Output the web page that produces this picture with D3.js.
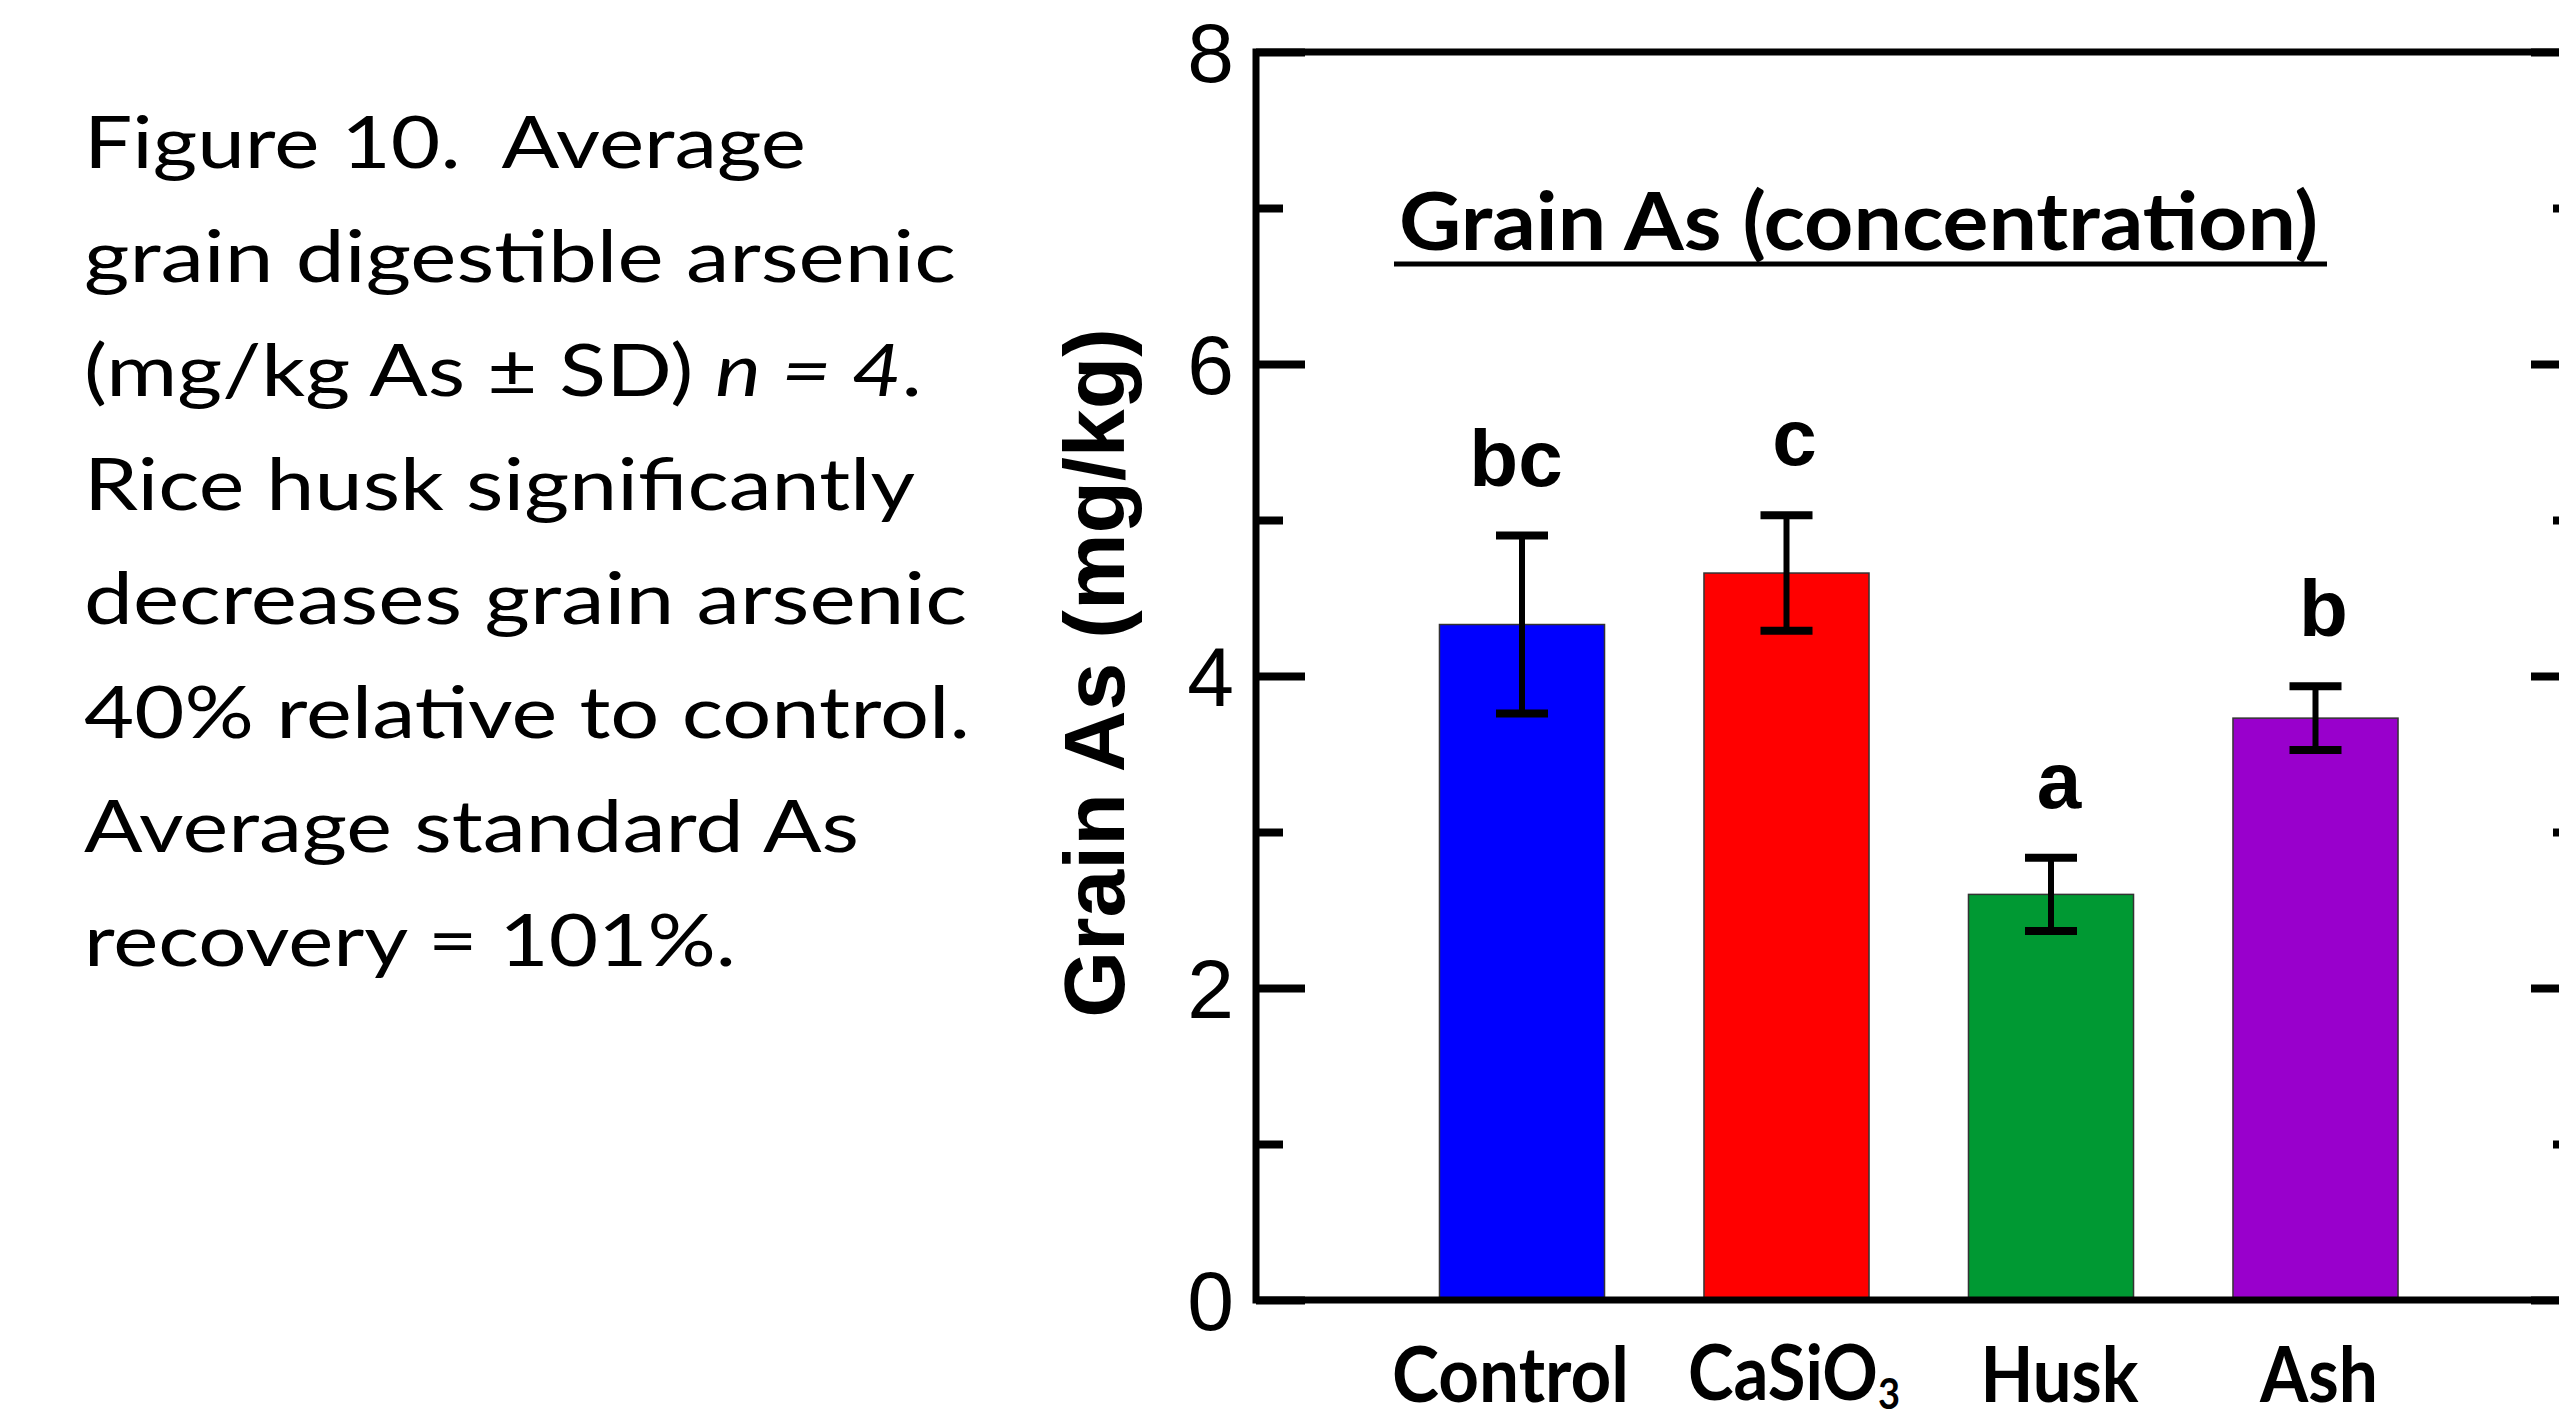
<!DOCTYPE html>
<html>
<head>
<meta charset="utf-8">
<script src="https://cdn.jsdelivr.net/npm/d3@7"></script>
<style>
  html, body { margin: 0; padding: 0; background: #ffffff; }
  svg { display: block; }
</style>
</head>
<body>
<svg id="chart" width="2559" height="1421"></svg>
<script>
// ---- data ----
const categories = ["Control", "CaSiO3", "Husk", "Ash"];
const means = [4.33, 4.66, 2.60, 3.73];
const sds = [0.57, 0.37, 0.235, 0.205];
const letters = ["bc", "c", "a", "b"];
const barColors = ["#0000FF", "#FF0000", "#009933", "#9900CC"];
const majorTicks = [0, 2, 4, 6, 8];
const minorTicks = [1, 3, 5, 7];
const chartTitle = "Grain As (concentration)";
const yTitle = "Grain As (mg/kg)";
const captionLines = [
  [{t: "Figure 10.\u00A0 Average"}],
  [{t: "grain digestible arsenic"}],
  [{t: "(mg/kg As \u00B1 SD) "}, {t: "n = 4", i: true}, {t: "."}],
  [{t: "Rice husk significantly"}],
  [{t: "decreases grain arsenic"}],
  [{t: "40% relative to control."}],
  [{t: "Average standard As"}],
  [{t: "recovery = 101%."}]
];
const captionWidths = [722, 872, 838, 831, 883, 886, 775, 652];

(function () {
const svg = d3.select("#chart");
svg.append("rect").attr("width", 2559).attr("height", 1421).attr("fill", "#fff");

const pL = 1256, pR = 2580, pT = 52, pB = 1300;
const y = d3.scaleLinear().domain([0, 8]).range([pB, pT]);
const x = d3.scaleBand().domain(categories).range([1389.75, 2447.75])
  .paddingInner(0.376).paddingOuter(0.188);

// caption
const cap = svg.append("g");
captionLines.forEach((parts, i) => {
  const t = cap.append("text")
    .attr("x", 84).attr("y", 168 + i * 114)
    .attr("font-family", "Lato, 'Open Sans', sans-serif")
    .attr("font-size", 72).attr("fill", "#000")
    .attr("textLength", captionWidths[i]).attr("lengthAdjust", "spacingAndGlyphs");
  parts.forEach(p => {
    const ts = t.append("tspan").text(p.t);
    if (p.i) ts.attr("font-style", "italic");
  });
});

// bars
const g = svg.append("g");
g.selectAll("rect.bar").data(categories).enter().append("rect")
  .attr("class", "bar")
  .attr("x", d => x(d))
  .attr("width", x.bandwidth())
  .attr("y", (d, i) => y(means[i]))
  .attr("height", (d, i) => y(0) - y(means[i]))
  .attr("fill", (d, i) => barColors[i])
  .attr("stroke", "#333").attr("stroke-width", 1.5);

// error bars
const capW = 52;
categories.forEach((c, i) => {
  const cx = x(c) + x.bandwidth() / 2;
  const hi = y(means[i] + sds[i]), lo = y(means[i] - sds[i]);
  g.append("line").attr("x1", cx).attr("x2", cx).attr("y1", hi).attr("y2", lo)
    .attr("stroke", "#000").attr("stroke-width", 6);
  [hi, lo].forEach(yy => {
    g.append("line").attr("x1", cx - capW / 2).attr("x2", cx + capW / 2)
      .attr("y1", yy).attr("y2", yy).attr("stroke", "#000").attr("stroke-width", 8);
  });
  g.append("text").attr("x", cx + (i === 0 ? -6 : 8)).attr("y", hi - 50)
    .attr("text-anchor", "middle")
    .attr("font-family", "'Liberation Sans', Arial, sans-serif")
    .attr("font-weight", "bold").attr("font-size", 80)
    .text(letters[i]);
});

// axes
const yAxis = d3.axisLeft(y).tickValues(majorTicks).tickSizeInner(-49).tickSizeOuter(0).tickPadding(22)
  .tickFormat(d3.format("d"));
const ya = svg.append("g").attr("transform", `translate(${pL},0)`).call(yAxis);
ya.select(".domain").remove();
ya.selectAll(".tick line").attr("stroke", "#000").attr("stroke-width", 8);
ya.selectAll(".tick text").attr("font-family", "'Liberation Sans', Arial, sans-serif")
  .attr("font-size", 84).attr("fill", "#000").attr("dy", "0.35em");

const yMinor = d3.axisLeft(y).tickValues(minorTicks).tickSizeInner(-27).tickSizeOuter(0).tickFormat("");
const ym = svg.append("g").attr("transform", `translate(${pL},0)`).call(yMinor);
ym.select(".domain").remove();
ym.selectAll(".tick line").attr("stroke", "#000").attr("stroke-width", 8);

const yR = d3.axisRight(y).tickValues(majorTicks).tickSizeInner(-49).tickSizeOuter(0).tickFormat("");
const yr = svg.append("g").attr("transform", `translate(${pR},0)`).call(yR);
yr.select(".domain").remove();
yr.selectAll(".tick line").attr("stroke", "#000").attr("stroke-width", 8);
const yRm = d3.axisRight(y).tickValues(minorTicks).tickSizeInner(-27).tickSizeOuter(0).tickFormat("");
const yrm = svg.append("g").attr("transform", `translate(${pR},0)`).call(yRm);
yrm.select(".domain").remove();
yrm.selectAll(".tick line").attr("stroke", "#000").attr("stroke-width", 8);

// frame
svg.append("rect").attr("x", pL).attr("y", pT).attr("width", pR - pL).attr("height", pB - pT)
  .attr("fill", "none").attr("stroke", "#000").attr("stroke-width", 7);

// x labels
const xlabFont = "Lato, 'Open Sans', sans-serif";
const xWidths = {"Control": 237, "Husk": 158, "Ash": 118};
const xShift = {"Control": -11.5, "Husk": 8.5, "Ash": 3.5};
categories.forEach((c, i) => {
  const cx = x(c) + x.bandwidth() / 2;
  if (c === "CaSiO3") {
    const t = svg.append("text").attr("x", cx - 98.5).attr("y", 1400)
      .attr("font-family", xlabFont).attr("font-weight", "bold").attr("font-size", 76)
      .attr("textLength", 212).attr("lengthAdjust", "spacingAndGlyphs");
    t.append("tspan").text("CaSiO");
    t.append("tspan").attr("font-size", 42).attr("dy", 9).text("3");
  } else {
    svg.append("text").attr("x", cx + xShift[c]).attr("y", 1402).attr("text-anchor", "middle")
      .attr("font-family", xlabFont).attr("font-weight", "bold").attr("font-size", 76)
      .attr("textLength", xWidths[c]).attr("lengthAdjust", "spacingAndGlyphs").text(c);
  }
});

// chart title
svg.append("text").attr("x", 1399).attr("y", 250)
  .attr("font-family", xlabFont).attr("font-weight", "bold").attr("font-size", 80)
  .attr("textLength", 919).attr("lengthAdjust", "spacingAndGlyphs").text(chartTitle);
svg.append("line").attr("x1", 1394).attr("x2", 2327).attr("y1", 264).attr("y2", 264)
  .attr("stroke", "#000").attr("stroke-width", 5);

// y title
svg.append("text").attr("transform", `translate(1124,673) rotate(-90)`)
  .attr("text-anchor", "middle")
  .attr("font-family", "'Liberation Sans', Arial, sans-serif")
  .attr("font-weight", "bold").attr("font-size", 86).text(yTitle);
})();
</script>
</body>
</html>
